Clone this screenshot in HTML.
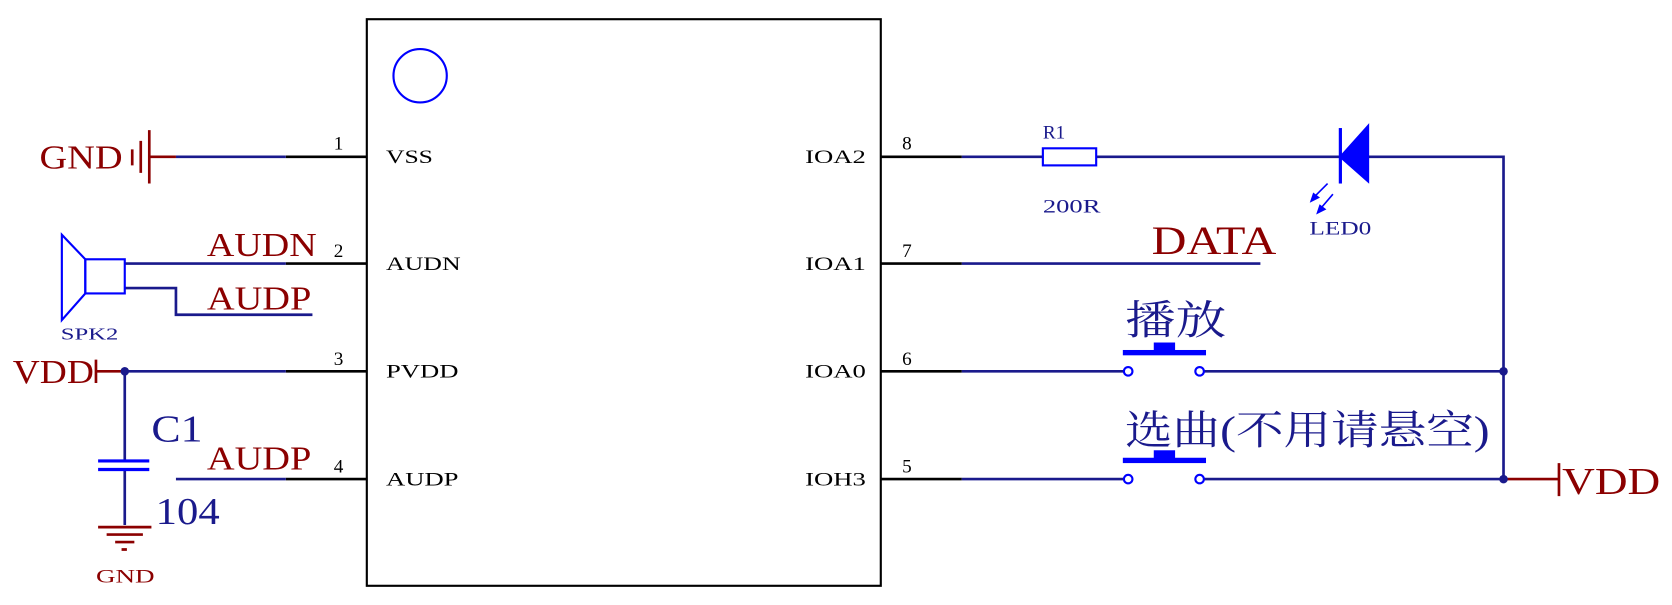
<!DOCTYPE html>
<html><head><meta charset="utf-8"><style>html,body{margin:0;padding:0;background:#fff}svg{display:block}</style></head><body>
<svg width="1672" height="605" viewBox="0 0 1568 567" preserveAspectRatio="none" xmlns="http://www.w3.org/2000/svg" font-family="'Liberation Serif','Noto Serif CJK SC',serif">
<rect x="344" y="18" width="482" height="531" fill="none" stroke="#000" stroke-width="2"/>
<circle cx="394" cy="71" r="25" fill="none" stroke="#00f" stroke-width="2"/>
<g stroke-width="2.5" fill="none">
<path d="M268 147H344M268 247H344M268 348H344M268 449H344" stroke="#000"/>
<path d="M165 147H268M117 247H268M117 348H268M165 449H268" stroke="#1a1a8c"/>
<path d="M826 147H902M826 247H902M826 348H902M826 449H902" stroke="#000"/>
<path d="M902 147H978M1028 147H1257M1283 147H1410V449M902 247H1182M902 348H1054M1129 348H1410M902 449H1054M1129 449H1410" stroke="#1a1a8c"/>
<path d="M117 270H165V295H293" stroke="#1a1a8c"/>
<path d="M117 348V432M117 440V492" stroke="#1a1a8c"/>
</g>
<g stroke="#8b0000" stroke-width="2.5">
<path d="M140 147H165M140 122V172M132 132V162M124 140V155"/>
<path d="M90 337V359M90 348H117"/>
<path d="M92 494H142M100 501H134M108 508H126M114 515H119"/>
<path d="M1410 449H1440M1462 434V465M1440 449H1462"/>
</g>
<g fill="#00f" stroke="#00f" stroke-width="2">
<path d="M58 220L80 243V275L58 300Z" fill="none"/>
<rect x="80" y="243" width="37" height="32" fill="none"/>
<path d="M92 432H140M92 440H140" stroke-width="3"/>
<rect x="978" y="139" width="50" height="16" fill="none"/>
<path d="M1257 147L1283 118V170Z"/>
<path d="M1257 120V172" stroke-width="3"/>
<path d="M1245 172L1232 185M1250 182L1238 196" stroke-width="1.5"/>
<path d="M1230 188l2-6 4 3zM1236 199l2-6 4 3z"/>
<rect x="1053" y="328" width="78" height="5" stroke="none"/>
<rect x="1082" y="321" width="20" height="8" stroke="none"/>
<rect x="1053" y="429" width="78" height="5" stroke="none"/>
<rect x="1082" y="422" width="20" height="8" stroke="none"/>
<g fill="#fff"><circle cx="1058" cy="348" r="4"/><circle cx="1125" cy="348" r="4"/><circle cx="1058" cy="449" r="4"/><circle cx="1125" cy="449" r="4"/></g>
</g>
<g fill="#1a1a8c"><circle cx="117" cy="348" r="4"/><circle cx="1410" cy="348" r="4"/><circle cx="1410" cy="449" r="4"/></g>
<g font-size="18" fill="#000">
<text x="362" y="153" textLength="44" lengthAdjust="spacingAndGlyphs">VSS</text><text x="362" y="253" textLength="70" lengthAdjust="spacingAndGlyphs">AUDN</text><text x="362" y="354" textLength="68" lengthAdjust="spacingAndGlyphs">PVDD</text><text x="362" y="455" textLength="68" lengthAdjust="spacingAndGlyphs">AUDP</text>
<text x="755" y="153" textLength="57" lengthAdjust="spacingAndGlyphs">IOA2</text><text x="755" y="253" textLength="57" lengthAdjust="spacingAndGlyphs">IOA1</text><text x="755" y="354" textLength="57" lengthAdjust="spacingAndGlyphs">IOA0</text><text x="755" y="455" textLength="57" lengthAdjust="spacingAndGlyphs">IOH3</text>
<text x="313" y="140">1</text><text x="313" y="241">2</text><text x="313" y="342">3</text><text x="313" y="443">4</text>
<text x="846" y="140">8</text><text x="846" y="241">7</text><text x="846" y="342">6</text><text x="846" y="443">5</text>
</g>
<g fill="#8b0000" font-size="32">
<text x="37" y="158" textLength="78" lengthAdjust="spacingAndGlyphs">GND</text>
<text x="194" y="240" textLength="103" lengthAdjust="spacingAndGlyphs">AUDN</text><text x="194" y="290" textLength="98" lengthAdjust="spacingAndGlyphs">AUDP</text><text x="194" y="440" textLength="98" lengthAdjust="spacingAndGlyphs">AUDP</text>
<text x="12" y="359" textLength="76" lengthAdjust="spacingAndGlyphs">VDD</text>
<text x="1465" y="463" font-size="36" textLength="92" lengthAdjust="spacingAndGlyphs">VDD</text>
<text x="1080" y="238" font-size="38" textLength="117" lengthAdjust="spacingAndGlyphs">DATA</text>
<text x="90" y="546" font-size="18" textLength="55" lengthAdjust="spacingAndGlyphs">GND</text>
</g>
<g fill="#1a1a8c">
<text x="57" y="318" font-size="16" textLength="54" lengthAdjust="spacingAndGlyphs">SPK2</text>
<text x="142" y="414" font-size="36" textLength="48" lengthAdjust="spacingAndGlyphs">C1</text>
<text x="146" y="491" font-size="36" textLength="60" lengthAdjust="spacingAndGlyphs">104</text>
<text x="978" y="130" font-size="18">R1</text>
<text x="978" y="199" font-size="18" textLength="54" lengthAdjust="spacingAndGlyphs">200R</text>
<text x="1228" y="220" font-size="18" textLength="58" lengthAdjust="spacingAndGlyphs">LED0</text>
<text x="1055" y="313" font-size="38" textLength="95" lengthAdjust="spacingAndGlyphs">播放</text>
<text x="1055" y="416" font-size="38" textLength="342" lengthAdjust="spacingAndGlyphs">选曲(不用请悬空)</text>
</g>
</svg>
</body></html>
